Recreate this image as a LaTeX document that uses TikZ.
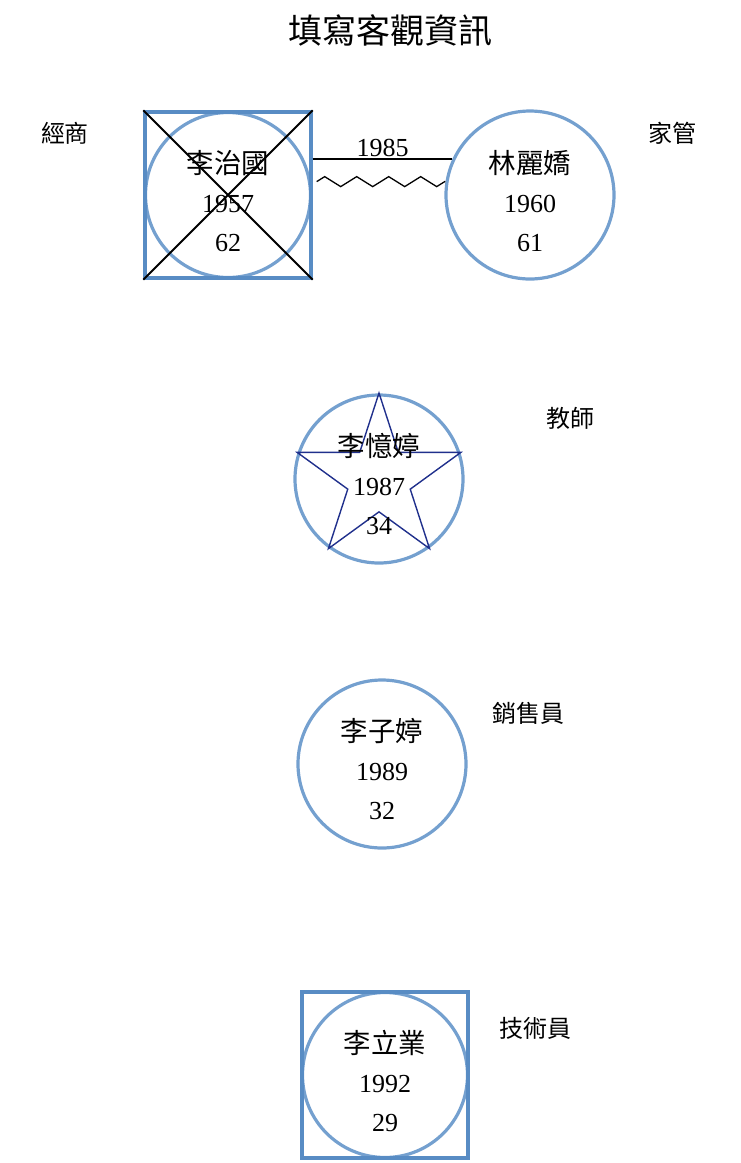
\documentclass[tikz,border=0pt]{standalone}
\usepackage{fontspec}
\setmainfont{Liberation Serif}
\usetikzlibrary{calc,decorations.pathmorphing,shapes.geometric}
\newfontfamily\cjk{Noto Sans CJK TC}
\definecolor{boxblue}{RGB}{88,140,196}
\definecolor{ringblue}{RGB}{116,160,207}
\definecolor{starblue}{RGB}{32,48,140}
\newcommand{\nm}[1]{{\cjk\fontsize{27.5}{39}\selectfont #1}}

\begin{document}
\begin{tikzpicture}[x=1pt,y=-1pt,
		person/.style={circle,draw=ringblue,line width=3.2pt,minimum size=168pt,inner sep=0pt},
		malebox/.style={rectangle,draw=boxblue,line width=3.4pt,minimum size=166pt,inner sep=0pt},
		info/.style={align=center,font=\fontsize{26}{39}\selectfont},
		job/.style={font=\cjk\fontsize{24}{30}\selectfont}]
		\useasboundingbox (0,0) rectangle (740,1163);
		\node[font=\cjk\fontsize{34}{40}\selectfont] (title) at (390,30) {填寫客觀資訊};
		% parents
		\node[person,minimum size=165pt] (father) at (228,195) {};
		\node[malebox] (fatherbox) at (father.center) {};
		\node[info] (fathertext) at ([yshift=-6pt]father.center) {\nm{李治國}\\1957\\62};
		\draw[line width=2pt] (fatherbox.north west) -- (fatherbox.south east)
			(fatherbox.north east) -- (fatherbox.south west);
		\node[person] (mother) at (530,195) {};
		\node[info] (mothertext) at ([yshift=-6pt]mother.center) {\nm{林麗嬌}\\1960\\61};
		\draw[line width=1.4pt] (fatherbox.east |- mother.155) -- (mother.155)
			node[midway,above,inner sep=1.5pt,font=\fontsize{26}{30}\selectfont]{1985};
		\draw[line width=1.3pt,decorate,decoration={zigzag,segment length=32pt,amplitude=5pt}]
			($(fatherbox.east |- mother.171)+(4,0)$) -- (mother.171);
		\node[job] (fatherjob) at (65,133) {經商};
		\node[job] (motherjob) at (672,133) {家管};
		% children
		\node[person] (daughter) at (379,479) {};
		\node[star,star points=5,star point ratio=2.618,minimum size=172pt,inner sep=0pt,
			draw=starblue,line width=1.4pt] (daughterstar) at (daughter.center) {};
		\node[info] (daughtertext) at ([yshift=-5pt]daughter.center) {\nm{李憶婷}\\1987\\34};
		\node[job] (daughterjob) at (570,418) {教師};
		\node[person] (daughterb) at (382,764) {};
		\node[info] (daughterbtext) at ([yshift=-5pt]daughterb.center) {\nm{李子婷}\\1989\\32};
		\node[job] (daughterbjob) at (528,713) {銷售員};
		\node[person,minimum size=165pt] (son) at (385,1075) {};
		\node[malebox] (sonbox) at (son.center) {};
		\node[info] (sontext) at ([yshift=-6pt]son.center) {\nm{李立業}\\1992\\29};
		\node[job] (sonjob) at (535,1028) {技術員};
	\end{tikzpicture}
\end{document}
